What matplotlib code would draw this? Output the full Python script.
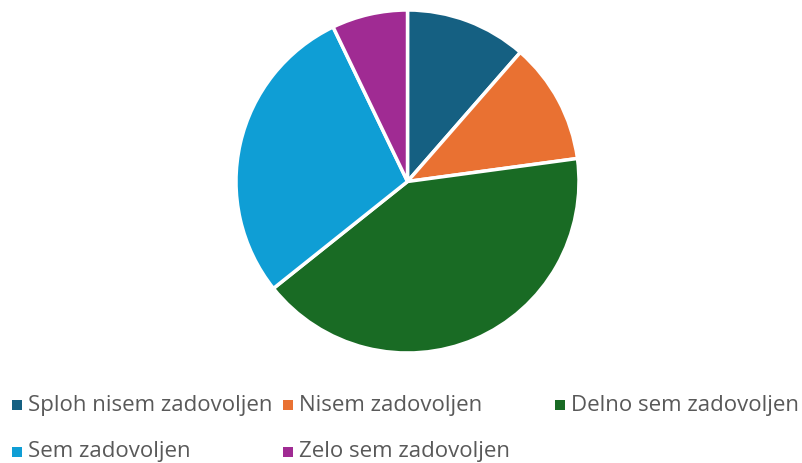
import matplotlib
matplotlib.use('Agg')
import matplotlib.pyplot as plt
from matplotlib.patches import Rectangle

# Survey answers (counts)
labels = ['Sploh nisem zadovoljen', 'Nisem zadovoljen', 'Delno sem zadovoljen',
          'Sem zadovoljen', 'Zelo sem zadovoljen']
counts = [8, 8, 29, 20, 5]
colors = ['#156082', '#E97132', '#196B24', '#0F9ED5', '#A02B93']

plt.rcParams['font.family'] = ['Open Sans', 'DejaVu Sans']

W, H = 803, 463
fig = plt.figure(figsize=(W / 100, H / 100), dpi=100)

# pie axes: center (407.5,181.5) px, radius ~171.5 px
cx, cy, r = 407.5, 181.5, 171.5
ax = fig.add_axes([(cx - r) / W, (H - cy - r) / H, 2 * r / W, 2 * r / H])
ax.pie(counts, colors=colors, startangle=90, counterclock=False,
       wedgeprops={'edgecolor': 'white', 'linewidth': 2.5})
ax.set_aspect('equal')
ax.set_xlim(-1, 1)
ax.set_ylim(-1, 1)
ax.axis('off')

# legend laid out like Office: 3 columns, 2 rows
col_x = [12, 283, 555]
row_y = [405, 452]
for i, (lab, col) in enumerate(zip(labels, colors)):
    x = col_x[i % 3]
    y = row_y[i // 3]
    fig.patches.append(Rectangle((x / W, (H - y - 5) / H), 10 / W, 10 / H,
                                 transform=fig.transFigure, facecolor=col,
                                 edgecolor='none'))
    fig.text((x + 16) / W, (H - y) / H, lab, fontsize=16, color='#595959',
             va='center', ha='left')

fig.savefig('out.png', dpi=100)
